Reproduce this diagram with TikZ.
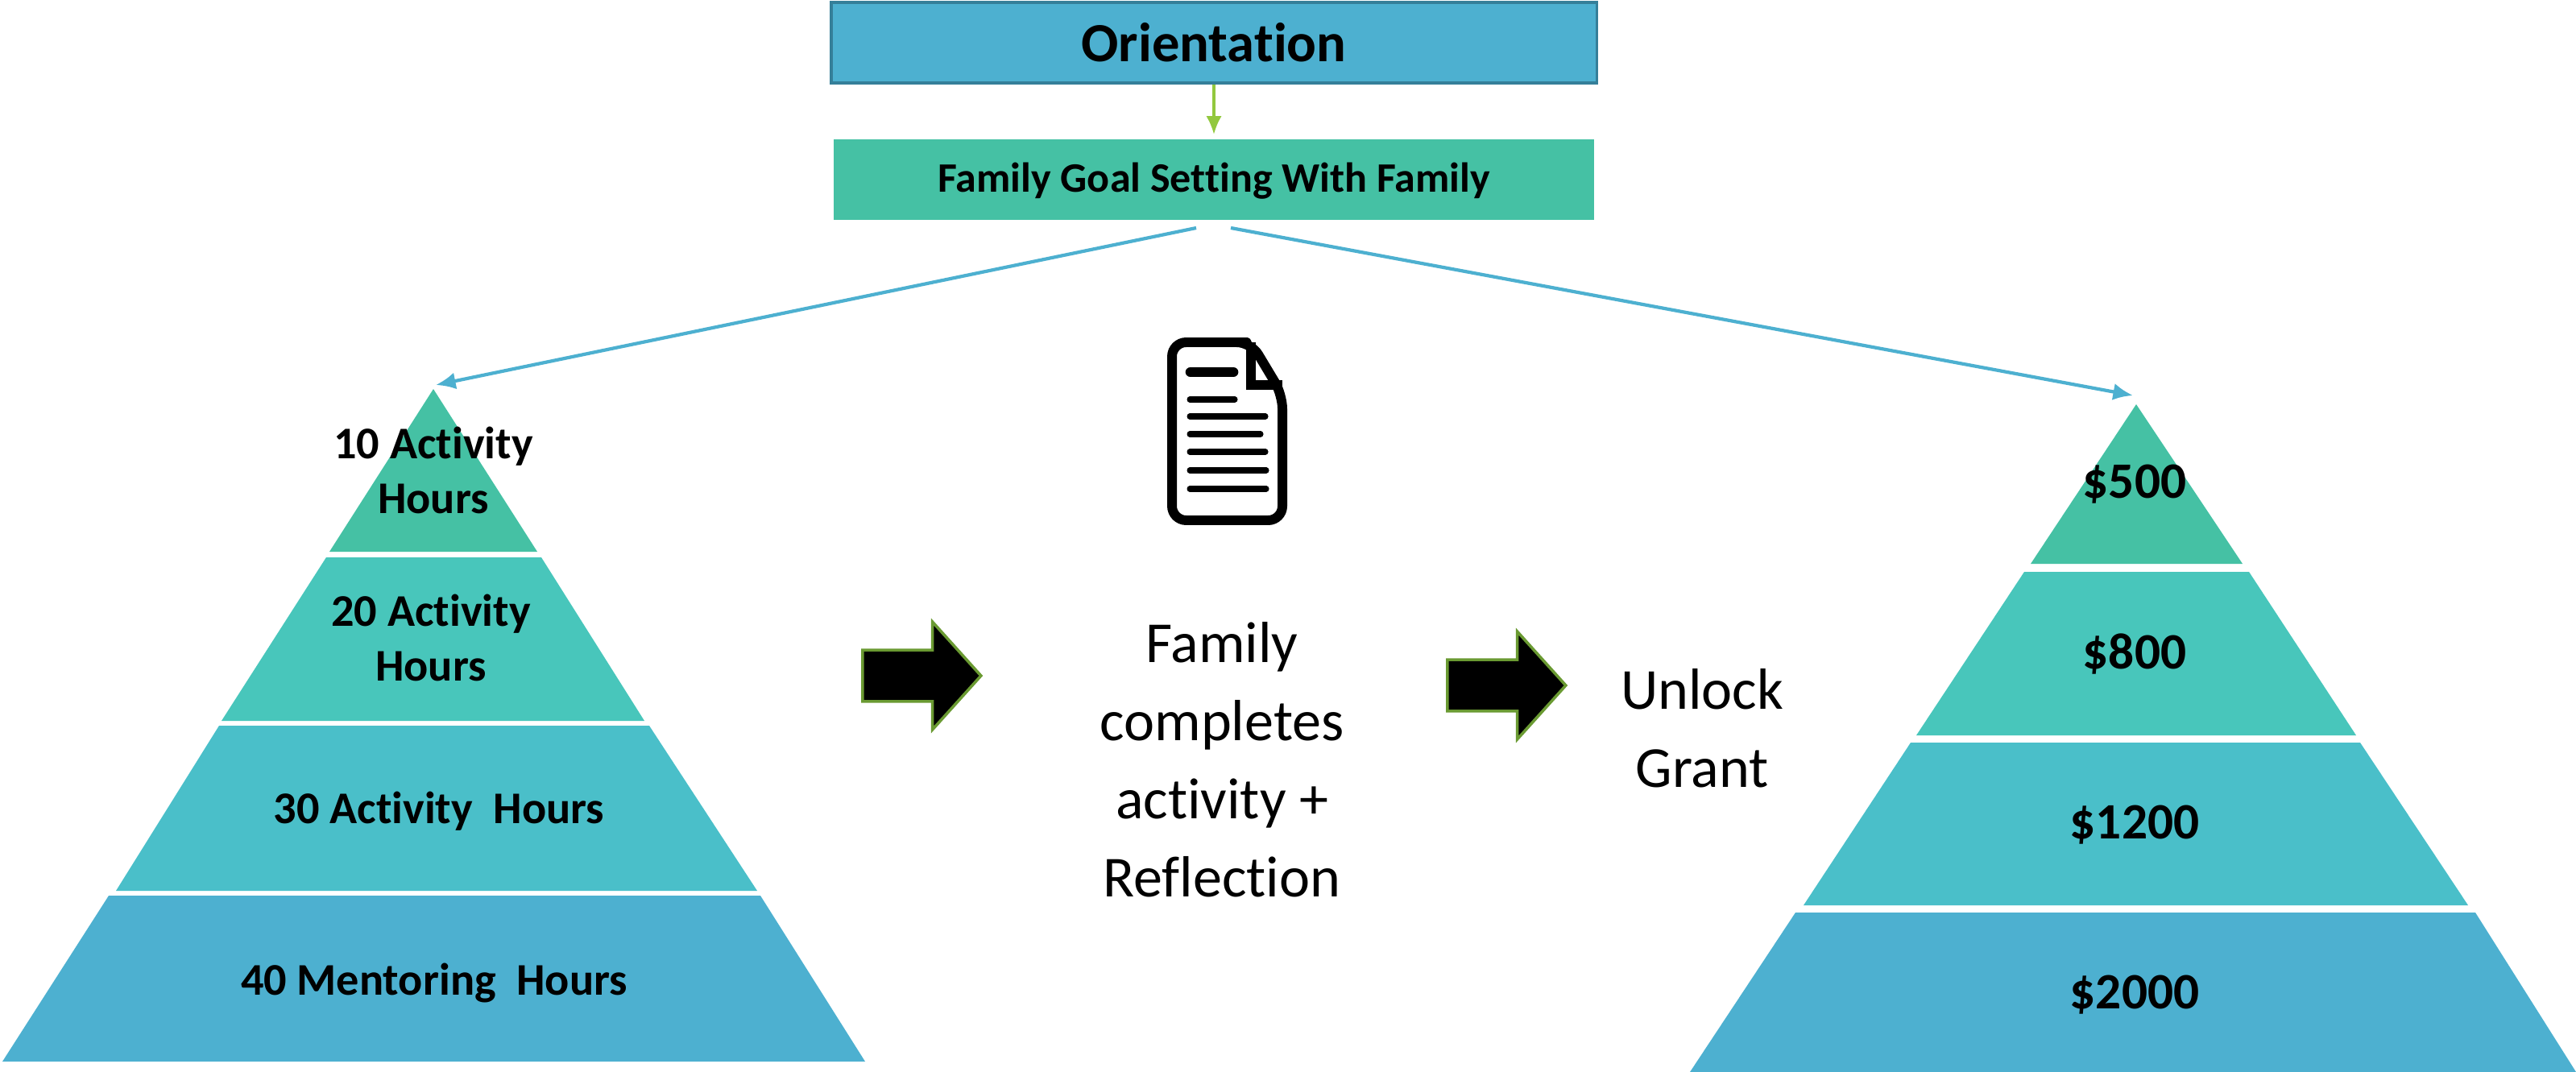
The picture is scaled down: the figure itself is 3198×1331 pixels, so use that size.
\documentclass[tikz,border=0pt]{standalone}
\usepackage{fontspec}
\usepackage{xcolor}
\setmainfont[Ligatures=NoCommon]{Carlito}
\usetikzlibrary{arrows.meta}
\usetikzlibrary{shapes.arrows}
\definecolor{blueband}{HTML}{4DB0D0}
\definecolor{blueedge}{HTML}{357F99}
\definecolor{tealband}{HTML}{4ABFC9}
\definecolor{mintband}{HTML}{48C6BB}
\definecolor{greenband}{HTML}{45C1A4}
\definecolor{limeline}{HTML}{92C83E}
\definecolor{arrowedge}{HTML}{6A9A32}
\tikzset{
  titlebox/.style={rectangle,inner sep=0pt,minimum width=9.5cm,minimum height=1cm},
  tierlabel/.style={align=center,font=\fontsize{16}{19.4}\selectfont\bfseries},
  grantlabel/.style={font=\fontsize{18}{22}\selectfont\bfseries},
  steplabel/.style={align=center,font=\fontsize{20.5}{27.6}\selectfont},
  blockarrow/.style={single arrow,draw=arrowedge,fill=black,line width=1pt,
    inner xsep=0pt,inner ysep=0.3cm,minimum height=1.47cm,single arrow head extend=0.35cm,
    single arrow tip angle=96,single arrow head indent=0pt},
  bluearrow/.style={-{Latex[length=7pt,width=6pt]},blueband,line width=1.2pt},
  docline/.style={line cap=round,line width=2pt}
}
\begin{document}
\begin{tikzpicture}[x=0.01cm,y=-0.01cm]
    \useasboundingbox (0,0) rectangle (3198,1331);
    % top boxes
    \node[titlebox,fill=blueband,draw=blueedge,line width=1pt,font=\fontsize{19.5}{24}\selectfont\bfseries]
      (orientation) at (1507,53) {Orientation};
    \node[titlebox,fill=greenband,font=\fontsize{14.8}{18}\selectfont\bfseries,minimum width=9.44cm,
      text height=11pt,text depth=2pt]
      (goal) at (1507,223) {Family Goal Setting With Family};
    \draw[-{Latex[length=6.5pt,width=5.5pt]},limeline,line width=1pt,shorten >=1.5pt] (orientation) -- (goal);
    \coordinate (goalleft) at (1485,283);
    \coordinate (goalright) at (1528,283);
    \coordinate (apexleft) at (538,483);
    \coordinate (apexright) at (2652,502);
    \draw[bluearrow] (goalleft) -- (541,478);
    \draw[bluearrow] (goalright) -- (2648,491);
    % left pyramid
    \fill[greenband] (apexleft) -- (667,685) -- (409,685) -- cycle;
    \fill[mintband] (405,692) -- (672,692) -- (800,895) -- (275,895) -- cycle;
    \fill[tealband] (272,901) -- (806,901) -- (940,1106) -- (144,1106) -- cycle;
    \fill[blueband] (135,1112) -- (944,1112) -- (1074,1318) -- (3,1318) -- cycle;
    \node[tierlabel] (hoursa) at (538,584) {10 Activity\\Hours};
    \node[tierlabel] (hoursb) at (535,792) {20 Activity\\Hours};
    \node[tierlabel] (hoursc) at (545,1007) {30 Activity\ \ Hours};
    \node[tierlabel] (hoursd) at (539,1221) {40 Mentoring\ \ Hours};
    % right pyramid
    \fill[greenband] (apexright) -- (2784,700) -- (2521,700) -- cycle;
    \fill[mintband] (2513,710) -- (2792,710) -- (2925,913) -- (2379,913) -- cycle;
    \fill[tealband] (2372,922) -- (2930,922) -- (3064,1124) -- (2239,1124) -- cycle;
    \fill[blueband] (2229,1133) -- (3073,1133) -- (3198,1331) -- (2098,1331) -- cycle;
    \foreach \y/\n/\t in {601/a/500,812/b/800,1024/c/1200,1235/d/2000}{
      \node[grantlabel] (grant\n) at (2650,\y) {\$\t};
    };
    % block arrows and middle text
    \node[blockarrow,anchor=tail] (arrowa) at (1069,839) {};
    \node[blockarrow,anchor=tail] (arrowb) at (1795,851) {};
    \node[steplabel] (steptext) at (1517,943) {Family\\completes\\activity +\\Reflection};
    \node[steplabel] (unlocktext) at (2113,904) {Unlock\\Grant};
    % document icon
    \draw[line width=3.4pt,line join=round,rounded corners=5pt]
      (1530,425) -- (1455,425) -- (1455,646) -- (1592,646) -- (1592,490) -- (1553,425) -- cycle;
    \draw[line width=3.4pt,line join=miter] (1553,425) -- (1553,478) -- (1592,478);
    \draw[line cap=round,line width=3.6pt] (1478,462) -- (1531,462);
    \draw[docline] (1477,496) -- (1533,496);
    \foreach \y/\e in {517/1571,539/1565,561/1571,584/1572,607/1572}{
      \draw[docline] (1477,\y) -- (\e,\y);
    };
\end{tikzpicture}
\end{document}
